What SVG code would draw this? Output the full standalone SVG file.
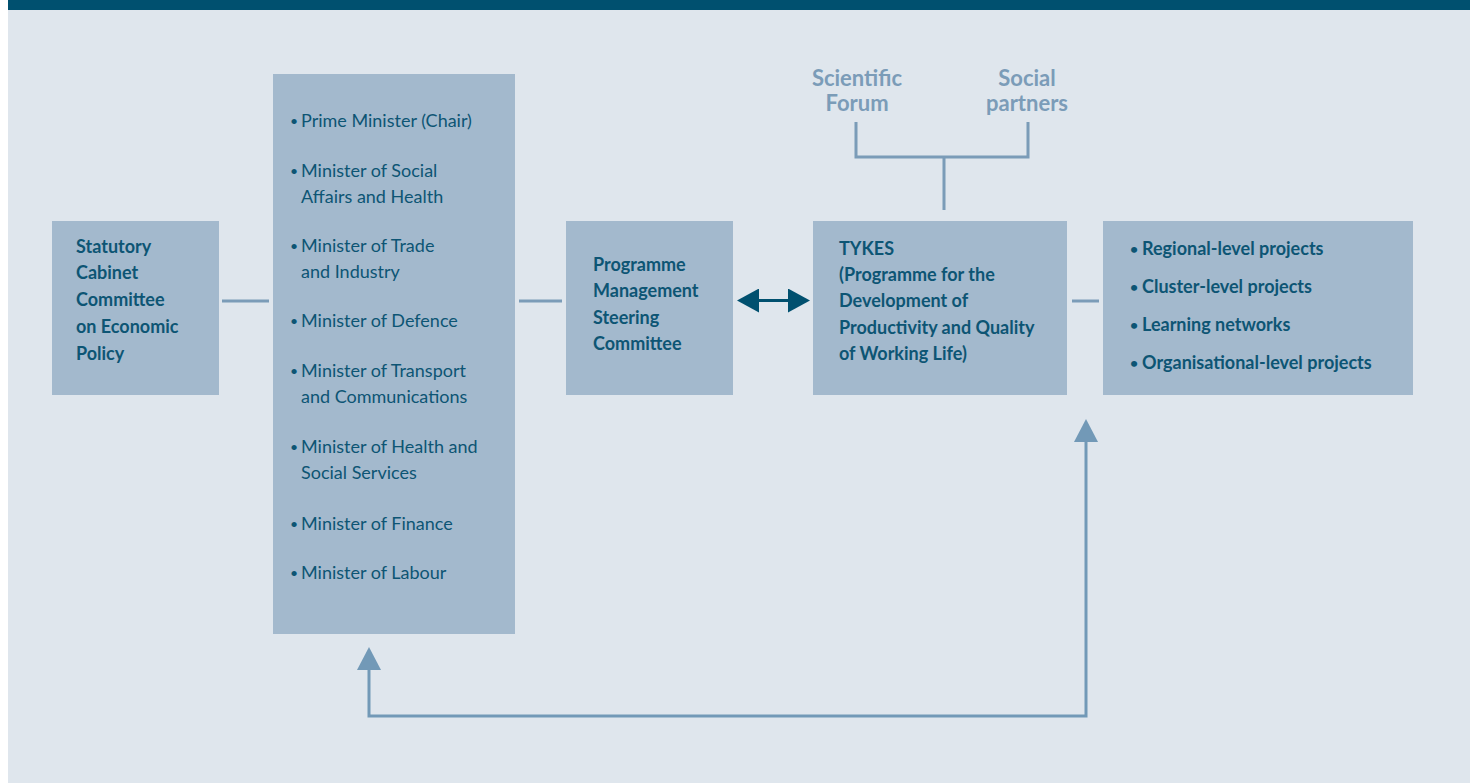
<svg xmlns="http://www.w3.org/2000/svg" width="1470" height="783" viewBox="0 0 1470 783">
<defs>
<style>
.box{fill:#a3b9cd}
.t{font-family:Lato,"Noto Sans",sans-serif;font-size:18px;fill:#0d5574}
.b{font-weight:700}
.m{font-weight:400}
.bl{font-size:14px}
.top{font-family:Lato,"Noto Sans",sans-serif;font-size:22px;font-weight:700;fill:#7b9cb8;text-anchor:middle}
.ln{stroke:#7b9cb8;stroke-width:3;fill:none}
.fb{stroke:#7299b7;stroke-width:3;fill:none}
</style>
<marker id="dh" viewBox="0 0 22 24" refX="0" refY="12" markerWidth="22" markerHeight="24" markerUnits="userSpaceOnUse" orient="auto-start-reverse">
<path d="M0,0 L22,12 L0,24 Z" fill="#00506f"/>
</marker>
</defs>
<rect x="0" y="0" width="1470" height="783" fill="#ffffff"/>
<rect x="8" y="0" width="1462" height="783" fill="#dfe6ed"/>
<rect x="8" y="0" width="1462" height="10" fill="#00506f"/>

<g id="connectors">
<line class="ln" x1="222" y1="301" x2="269" y2="301"/>
<line class="ln" x1="519" y1="301" x2="562" y2="301"/>
<line class="ln" x1="1072" y1="301" x2="1099" y2="301"/>
<line x1="759" y1="300.5" x2="788" y2="300.5" stroke="#00506f" stroke-width="3" marker-start="url(#dh)" marker-end="url(#dh)"/>
<path class="ln" d="M856,122 V157 H1028 V122 M944,157 V210"/>
<path class="fb" d="M1086,442 V716 H369 V670"/>
<path d="M357,670 L369,647 L381,670 Z" fill="#7299b7"/>
<path d="M1074,442 L1086,419 L1098,442 Z" fill="#7299b7"/>
</g>

<g id="scientific-forum">
<text class="top" x="857" y="86">Scientific</text>
<text class="top" x="857" y="111">Forum</text>
</g>
<g id="social-partners">
<text class="top" x="1027" y="86">Social</text>
<text class="top" x="1027" y="111">partners</text>
</g>

<g id="cabinet-committee">
<rect class="box" x="52" y="221" width="167" height="174"/>
<text class="t b" x="76" y="253">Statutory</text>
<text class="t b" x="76" y="279">Cabinet</text>
<text class="t b" x="76" y="306">Committee</text>
<text class="t b" x="76" y="333">on Economic</text>
<text class="t b" x="76" y="360">Policy</text>
</g>

<g id="ministers">
<rect class="box" x="273" y="74" width="242" height="560"/>
<g class="t m bl">
<text x="290" y="126">•</text>
<text x="290" y="176">•</text>
<text x="290" y="251">•</text>
<text x="290" y="326">•</text>
<text x="290" y="376">•</text>
<text x="290" y="452">•</text>
<text x="290" y="529">•</text>
<text x="290" y="578">•</text>
</g>
<g class="t m">
<text x="301" y="127">Prime Minister (Chair)</text>
<text x="301" y="177">Minister of Social</text>
<text x="301" y="203">Affairs and Health</text>
<text x="301" y="252">Minister of Trade</text>
<text x="301" y="278">and Industry</text>
<text x="301" y="327">Minister of Defence</text>
<text x="301" y="377">Minister of Transport</text>
<text x="301" y="403">and Communications</text>
<text x="301" y="453">Minister of Health and</text>
<text x="301" y="479">Social Services</text>
<text x="301" y="530">Minister of Finance</text>
<text x="301" y="579">Minister of Labour</text>
</g>
</g>

<g id="steering-committee">
<rect class="box" x="566" y="221" width="167" height="174"/>
<text class="t b" x="593" y="271">Programme</text>
<text class="t b" x="593" y="297">Management</text>
<text class="t b" x="593" y="324">Steering</text>
<text class="t b" x="593" y="350">Committee</text>
</g>

<g id="tykes">
<rect class="box" x="813" y="221" width="254" height="174"/>
<text class="t b" x="839" y="255">TYKES</text>
<text class="t b" x="839" y="281">(Programme for the</text>
<text class="t b" x="839" y="307">Development of</text>
<text class="t b" x="839" y="334">Productivity and Quality</text>
<text class="t b" x="839" y="360">of Working Life)</text>
</g>

<g id="projects">
<rect class="box" x="1103" y="221" width="310" height="174"/>
<g class="t b bl">
<text x="1130" y="254">•</text>
<text x="1130" y="292">•</text>
<text x="1130" y="330">•</text>
<text x="1130" y="368">•</text>
</g>
<g class="t b">
<text x="1142" y="255">Regional-level projects</text>
<text x="1142" y="293">Cluster-level projects</text>
<text x="1142" y="331">Learning networks</text>
<text x="1142" y="369">Organisational-level projects</text>
</g>
</g>
</svg>
